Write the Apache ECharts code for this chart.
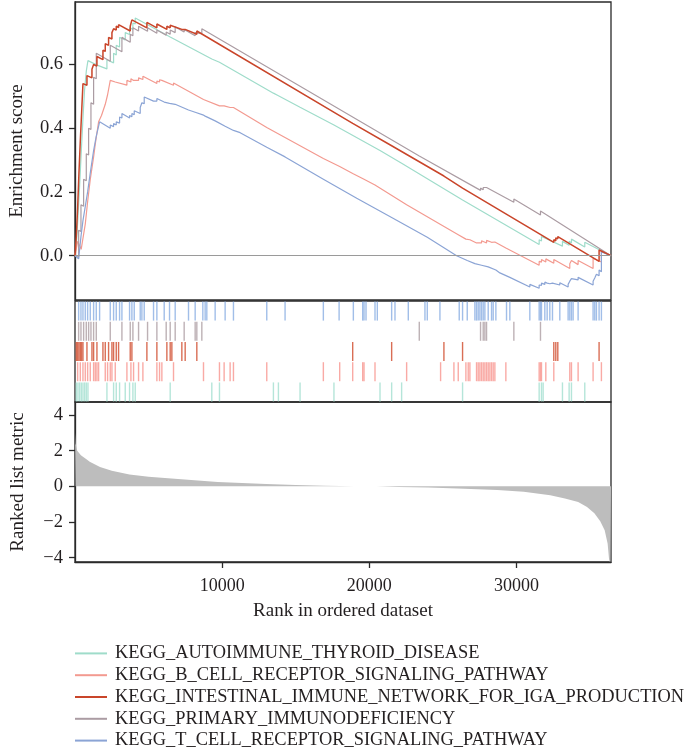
<!DOCTYPE html>
<html>
<head>
<meta charset="utf-8">
<script src="https://cdn.jsdelivr.net/npm/echarts@6/dist/echarts.min.js"></script>
<style>
html,body{margin:0;padding:0;background:#fff;}
#chart{width:690px;height:752px;}
</style>
</head>
<body>
<div id="chart"></div>
<script>
// ---- names & colours ----
const setNames = [
  'KEGG_AUTOIMMUNE_THYROID_DISEASE',
  'KEGG_B_CELL_RECEPTOR_SIGNALING_PATHWAY',
  'KEGG_INTESTINAL_IMMUNE_NETWORK_FOR_IGA_PRODUCTION',
  'KEGG_PRIMARY_IMMUNODEFICIENCY',
  'KEGG_T_CELL_RECEPTOR_SIGNALING_PATHWAY'
];
const lineColors = ['#9fdcca', '#f39a90', '#c9452a', '#ab9ca3', '#8ba4d5'];
const rugColors  = ['#a3dfcf', '#f7958e', '#cf4a2b', '#ad9ea3', '#8aaee2'];
const rugOrder = [4, 3, 2, 1, 0]; // top to bottom: T cell, primary, intestinal, B cell, autoimmune

// ---- ticks ----
const xTicks = [10000, 20000, 30000];
const esTicks = [0, 0.2, 0.4, 0.6];
const metricTicks = [-4, -2, 0, 2, 4];

// ---- running enrichment score [rank, ES] ----
const esAutoimmune = [[0,0],[88,0.03],[200,0.12],[315,0.22],[430,0.33],[540,0.43],[650,0.52],[770,0.58],[880,0.612],[1500,0.598],[2170,0.586],[2170,0.615],[2623,0.605],[2623,0.635],[2804,0.63],[2804,0.66],[3030,0.655],[3030,0.685],[3415,0.677],[3415,0.70],[3709,0.694],[3709,0.715],[3935,0.71],[3935,0.73],[4094,0.727],[4094,0.746],[6470,0.686],[6470,0.69],[9298,0.617],[9298,0.62],[9819,0.607],[9819,0.61],[13485,0.51],[13825,0.502],[15296,0.466],[17600,0.41],[20730,0.33],[22200,0.29],[26342,0.175],[26342,0.18],[31547,0.035],[31547,0.05],[31705,0.046],[31705,0.06],[31818,0.057],[31818,0.066],[33131,0.03],[33131,0.045],[33584,0.033],[33584,0.045],[33742,0.04],[33742,0.052],[34647,0.027],[34647,0.042],[36430,0]];
const esBCell = [[0,0],[180,0.045],[420,0.02],[560,0.06],[700,0.10],[860,0.17],[1040,0.24],[1265,0.31],[1378,0.35],[1491,0.385],[1604,0.42],[1800,0.44],[2057,0.475],[2215,0.505],[2397,0.55],[2736,0.545],[2736,0.55],[3528,0.535],[3528,0.55],[3800,0.545],[3800,0.555],[3981,0.55],[3981,0.556],[4320,0.55],[4320,0.558],[4614,0.553],[4614,0.563],[5565,0.54],[5565,0.548],[5746,0.545],[5746,0.552],[5904,0.55],[5904,0.556],[6696,0.535],[6696,0.542],[8733,0.49],[8733,0.494],[9819,0.47],[9819,0.476],[10136,0.47],[10136,0.475],[10543,0.465],[10543,0.47],[10770,0.465],[13033,0.402],[16880,0.305],[17990,0.28],[18874,0.258],[19643,0.24],[20390,0.222],[22540,0.16],[24848,0.098],[26048,0.066],[26568,0.052],[26568,0.056],[26840,0.05],[27292,0.04],[27292,0.046],[27632,0.04],[27632,0.047],[27971,0.04],[27971,0.048],[28311,0.042],[28311,0.048],[28537,0.043],[29284,0.024],[29284,0.03],[31547,-0.03],[31547,-0.018],[31705,-0.02],[31705,-0.012],[32000,-0.02],[32000,-0.01],[32542,-0.024],[32542,-0.012],[33629,-0.04],[33629,-0.025],[33742,-0.028],[33742,-0.015],[34195,-0.028],[34195,-0.015],[35213,-0.04],[35213,-0.008],[35778,-0.02],[35778,0.015],[36430,0]];
const esIntestinal = [[0,0],[88,0.06],[179,0.15],[269,0.26],[360,0.36],[450,0.45],[541,0.54],[812,0.535],[812,0.565],[1152,0.558],[1152,0.585],[1265,0.583],[1265,0.60],[1491,0.595],[1491,0.625],[1899,0.615],[1899,0.645],[2057,0.641],[2057,0.665],[2283,0.66],[2283,0.685],[2510,0.68],[2510,0.70],[2623,0.697],[2623,0.712],[2804,0.708],[2804,0.72],[2962,0.716],[2962,0.725],[3754,0.705],[3754,0.72],[3867,0.717],[3867,0.74],[4886,0.715],[4886,0.732],[5565,0.715],[5565,0.727],[6244,0.71],[6244,0.72],[6470,0.715],[6470,0.723],[6583,0.72],[6583,0.728],[7262,0.71],[7262,0.716],[7488,0.71],[7488,0.716],[8280,0.695],[8280,0.705],[18874,0.415],[21522,0.345],[25074,0.25],[26341,0.212],[32542,0.042],[32542,0.05],[32678,0.047],[32678,0.056],[32814,0.053],[32814,0.06],[35620,-0.018],[35620,0.018],[36430,0]];
const esPrimary = [[0,0],[247,-0.005],[247,0.08],[405,0.076],[405,0.16],[586,0.155],[586,0.24],[767,0.235],[767,0.32],[926,0.316],[926,0.40],[1084,0.396],[1084,0.48],[1265,0.475],[1265,0.56],[1446,0.555],[1446,0.635],[2397,0.61],[2397,0.66],[3189,0.64],[3189,0.685],[3754,0.67],[3754,0.695],[3935,0.69],[3935,0.715],[4320,0.705],[4320,0.72],[4931,0.704],[4931,0.715],[5565,0.698],[5565,0.708],[6198,0.692],[6198,0.702],[6470,0.695],[6470,0.708],[6809,0.70],[6809,0.718],[7420,0.702],[7420,0.71],[8167,0.69],[8167,0.70],[8280,0.697],[8280,0.705],[8620,0.697],[8620,0.712],[23400,0.313],[23400,0.318],[27564,0.205],[27564,0.212],[27745,0.207],[27745,0.214],[27858,0.211],[27858,0.217],[27971,0.214],[27971,0.22],[29827,0.168],[29827,0.178],[31637,0.128],[31637,0.14],[36430,0]];
const esTCell = [[0,0],[88,-0.005],[247,-0.01],[405,0.06],[541,0.11],[699,0.155],[858,0.2],[1039,0.26],[1265,0.33],[1446,0.375],[1672,0.42],[2397,0.40],[2397,0.41],[2623,0.405],[2623,0.415],[2804,0.41],[2804,0.42],[3030,0.416],[3030,0.435],[3189,0.432],[3189,0.446],[3709,0.432],[3709,0.44],[3867,0.436],[3867,0.446],[4026,0.442],[4026,0.455],[4433,0.446],[4433,0.465],[4546,0.462],[4546,0.48],[4705,0.477],[4705,0.498],[5338,0.485],[5338,0.49],[5565,0.485],[5565,0.493],[6063,0.482],[6063,0.487],[6425,0.478],[6425,0.484],[6809,0.475],[6809,0.48],[7715,0.457],[7715,0.461],[8167,0.45],[8167,0.455],[8688,0.442],[8846,0.438],[8959,0.436],[9525,0.423],[10204,0.406],[10770,0.393],[11224,0.386],[13033,0.34],[14278,0.31],[16880,0.24],[19148,0.18],[21522,0.12],[23943,0.058],[25938,0.0],[26659,-0.015],[27179,-0.025],[27632,-0.03],[28084,-0.035],[28605,-0.045],[28878,-0.054],[29555,-0.068],[30913,-0.098],[30913,-0.09],[31547,-0.102],[31547,-0.092],[31705,-0.093],[31705,-0.086],[31932,-0.09],[31932,-0.083],[32090,-0.086],[32271,-0.088],[32271,-0.083],[32452,-0.086],[32452,-0.08],[32950,-0.092],[32950,-0.085],[33516,-0.098],[33516,-0.09],[33629,-0.091],[33629,-0.08],[33742,-0.082],[33742,-0.072],[33855,-0.075],[33855,-0.068],[34195,-0.076],[34195,-0.068],[35213,-0.092],[35213,-0.08],[35326,-0.082],[35326,-0.07],[35439,-0.073],[35439,-0.058],[35620,-0.063],[35620,-0.045],[35778,-0.05],[35778,0.012],[36430,0]];
const esCurves = [esAutoimmune, esBCell, esIntestinal, esPrimary, esTCell];

// ---- hit positions (ranks) ----
const hitsAutoimmune = [88,201,315,428,541,654,767,880,2170,2623,2804,3030,3415,3709,3935,4094,6470,9298,9819,13485,13825,15296,17600,20730,21522,22200,26342,31547,31705,31818,33131,33584,33742,34647];
const hitsBCell = [179,360,541,699,858,1039,1265,1378,1491,1604,2057,2215,2397,2510,2736,3528,3800,3981,4320,4614,5565,5746,5904,6696,8733,9819,10136,10543,10770,13033,16880,17990,18874,19553,19643,20390,22540,24848,25753,26048,26568,26726,26840,27292,27405,27519,27632,27745,27858,27971,28084,28198,28311,28424,28537,29284,31547,31637,31705,32000,32542,33629,33742,34195,35213,35778];
const hitsIntestinal = [88,179,269,360,450,541,812,1152,1265,1491,1899,2057,2283,2510,2623,2804,2962,3754,3867,4886,5565,6244,6470,6583,7262,7488,8280,18874,21522,25074,26341,32542,32678,32814,35620];
const hitsPrimary = [247,405,586,767,926,1084,1265,1446,2397,3189,3754,3935,4320,4931,5565,6198,6470,6809,7420,8167,8280,8620,23400,27564,27745,27858,27971,29827,31637];
const hitsTCell = [247,405,541,699,858,1039,1265,1446,1672,2397,2623,2804,3030,3189,3709,3867,4026,4433,4546,4705,5338,5565,6063,6425,6809,7715,8167,8688,8846,8959,9525,10204,10770,13033,14278,16880,17950,18919,19553,19643,19779,20390,20548,21522,21748,22653,23785,23943,24803,26115,26342,26659,27179,27292,27405,27519,27632,27745,27858,28084,28311,28424,28605,29329,29555,30913,31547,31637,31705,31932,32090,32271,32452,32950,33516,33629,33742,33855,34195,35213,35326,35439,35620,35778];
const hitLists = [hitsAutoimmune, hitsBCell, hitsIntestinal, hitsPrimary, hitsTCell];

// ---- ranked list metric [rank, value] ----
const rankedMetric = [[0,3.0],[40,2.4],[150,2.0],[400,1.75],[800,1.5],[1000,1.38],[1700,1.08],[2500,0.88],[3700,0.66],[5000,0.54],[7000,0.41],[9700,0.25],[13000,0.13],[15000,0.08],[17000,0.04],[19000,0.012],[20500,0],[22000,-0.03],[24000,-0.07],[26000,-0.12],[28700,-0.2],[30500,-0.3],[32300,-0.5],[33300,-0.68],[34200,-0.88],[34800,-1.15],[35300,-1.5],[35700,-1.95],[36000,-2.46],[36200,-3.2],[36300,-4.1],[36380,-4.3],[36430,-4.3]];

const X_MAX = 36430;
const FONT = "'Liberation Serif', 'DejaVu Serif', serif";
const TXT = '#231f20';
const minus = v => (v < 0 ? '\u2212' + Math.abs(v) : String(v));

const series = [];
setNames.forEach((n, i) => {
  series.push({
    type: 'line', name: n, xAxisIndex: 0, yAxisIndex: 0,
    data: esCurves[i], showSymbol: false, symbol: 'none',
    lineStyle: { color: lineColors[i], width: i === 2 ? 1.5 : 1.2 },
    itemStyle: { color: lineColors[i] },
    z: 3 + (i === 2 ? 1 : 0),
    markLine: i === 0 ? {
      silent: true, symbol: 'none', label: { show: false },
      lineStyle: { color: '#9a9a9a', width: 1.2, type: 'solid' },
      data: [{ yAxis: 0 }]
    } : undefined
  });
});
setNames.forEach((n, i) => {
  series.push({
    type: 'scatter', name: n, xAxisIndex: 1, yAxisIndex: 1,
    symbol: 'rect', symbolSize: [1.4, 19],
    itemStyle: { color: rugColors[i], opacity: 0.8 },
    data: hitLists[i].map(r => [r, n]), silent: true
  });
});
series.push({
  type: 'line', name: 'metric', xAxisIndex: 2, yAxisIndex: 2,
  data: rankedMetric, showSymbol: false, symbol: 'none',
  lineStyle: { width: 0 }, areaStyle: { color: '#bdbdbd', opacity: 1 },
  silent: true
});

const hiddenX = (idx) => ({ type: 'value', gridIndex: idx, min: 0, max: X_MAX, show: false });

const option = {
  animation: false,
  backgroundColor: '#ffffff',
  textStyle: { fontFamily: FONT, color: TXT },
  grid: [
    { left: 75, top: 2, width: 536, height: 298, show: true, borderColor: '#2a2a2a', borderWidth: 1.3, backgroundColor: 'transparent' },
    { left: 75, top: 301, width: 536, height: 101, show: true, borderColor: '#2a2a2a', borderWidth: 1.3, backgroundColor: 'transparent' },
    { left: 75, top: 402, width: 536, height: 160, show: true, borderColor: '#2a2a2a', borderWidth: 1.3, backgroundColor: 'transparent' }
  ],
  xAxis: [
    hiddenX(0),
    hiddenX(1),
    {
      type: 'value', gridIndex: 2, min: 0, max: X_MAX,
      axisLine: { show: true, onZero: false, lineStyle: { color: '#2a2a2a', width: 1.3 } },
      axisTick: { show: true, length: 6, customValues: xTicks, lineStyle: { color: '#2a2a2a', width: 1.3 } },
      axisLabel: { customValues: xTicks, formatter: v => String(v), fontSize: 18, margin: 15, color: TXT, fontFamily: FONT },
      splitLine: { show: false },
      name: 'Rank in ordered dataset', nameLocation: 'middle', nameGap: 40,
      nameTextStyle: { fontSize: 19, color: TXT, fontFamily: FONT }
    }
  ],
  yAxis: [
    {
      type: 'value', gridIndex: 0, min: -0.139, max: 0.796,
      axisLine: { show: true, lineStyle: { color: '#2a2a2a', width: 1.3 } },
      axisTick: { show: true, length: 6, customValues: esTicks, lineStyle: { color: '#2a2a2a', width: 1.3 } },
      axisLabel: { customValues: esTicks, formatter: v => Number(v).toFixed(1), fontSize: 18.5, margin: 12, color: TXT, fontFamily: FONT },
      splitLine: { show: false },
      name: 'Enrichment score', nameLocation: 'middle', nameGap: 48,
      nameTextStyle: { fontSize: 19, color: TXT, fontFamily: FONT }
    },
    {
      type: 'category', gridIndex: 1, data: rugOrder.map(k => setNames[k]), inverse: true, show: false
    },
    {
      type: 'value', gridIndex: 2, min: -4.24, max: 4.73,
      axisLine: { show: true, lineStyle: { color: '#2a2a2a', width: 1.3 } },
      axisTick: { show: true, length: 6, customValues: metricTicks, lineStyle: { color: '#2a2a2a', width: 1.3 } },
      axisLabel: { customValues: metricTicks, formatter: minus, fontSize: 18.5, margin: 12, color: TXT, fontFamily: FONT },
      splitLine: { show: false },
      name: 'Ranked list metric', nameLocation: 'middle', nameGap: 47,
      nameTextStyle: { fontSize: 19, color: TXT, fontFamily: FONT }
    }
  ],
  legend: {
    data: setNames, orient: 'vertical', left: 75, top: 642.5, padding: 0,
    height: 109.5,
    icon: 'rect', itemWidth: 32, itemHeight: 2, itemGap: 0,
    selectedMode: false,
    textStyle: { fontSize: 18.4, lineHeight: 21.8, color: TXT, fontFamily: FONT, padding: [0, 0, 0, 3] }
  },
  series: series
};

const chart = echarts.init(document.getElementById('chart'), null, { renderer: 'canvas' });
chart.setOption(option);
</script>
</body>
</html>
